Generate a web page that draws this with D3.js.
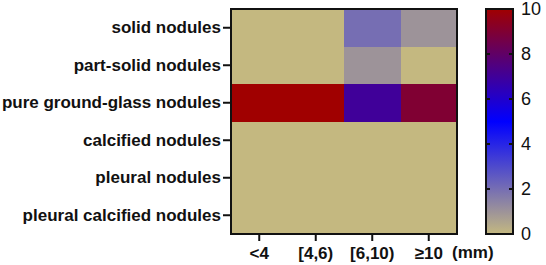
<!DOCTYPE html>
<html>
<head>
<meta charset="utf-8">
<script src="https://cdn.jsdelivr.net/npm/d3@7"></script>
<style>
  body { margin: 0; background: #fff; }
  svg { display: block; font-family: "Liberation Sans", Arial, sans-serif; }
</style>
</head>
<body>
<svg id="chart" width="546" height="265"></svg>
<script>
// nodule types (rows) and size bins (columns)
const rows = [
  "solid nodules",
  "part-solid nodules",
  "pure ground-glass nodules",
  "calcified nodules",
  "pleural nodules",
  "pleural calcified nodules"
];
const cols = ["<4", "[4,6)", "[6,10)", "\u226510"];

const solidVals = [0, 0, 2, 1];
const partSolidVals = [0, 0, 1, 0];
const ggnVals = [10, 10, 7, 9];
const calcifiedVals = [0, 0, 0, 0];
const pleuralVals = [0, 0, 0, 0];
const pleuralCalcVals = [0, 0, 0, 0];
const allVals = [solidVals, partSolidVals, ggnVals, calcifiedVals, pleuralVals, pleuralCalcVals];

const legendTicks = [0, 2, 4, 6, 8, 10];

const svg = d3.select("#chart");

// plot area
const plotL = 231, plotT = 9, plotR = 457, plotB = 234;

const x = d3.scaleBand().domain(cols).range([plotL, plotR]);
const y = d3.scaleBand().domain(rows).range([plotT, plotB]);

const color = d3.scaleLinear()
  .domain([0, 5, 10])
  .range(["#c4b880", "#0000ff", "#a00000"])
  .interpolate(d3.interpolateRgb);

let cells = [];
allVals.forEach(function (vals, i) {
  vals.forEach(function (v, j) {
    cells.push({ row: rows[i], col: cols[j], val: v });
  });
});

svg.append("g")
  .attr("shape-rendering", "crispEdges")
  .selectAll("rect")
  .data(cells)
  .enter()
  .append("rect")
  .attr("x", d => x(d.col))
  .attr("y", d => y(d.row))
  .attr("width", x.bandwidth() + 0.5)
  .attr("height", y.bandwidth() + 0.5)
  .attr("fill", d => color(d.val));

// frame
svg.append("rect")
  .attr("x", plotL)
  .attr("y", plotT)
  .attr("width", plotR - plotL)
  .attr("height", plotB - plotT)
  .attr("fill", "none")
  .attr("stroke", "#111")
  .attr("stroke-width", 2);

// y axis
const yAxis = svg.append("g")
  .attr("transform", "translate(" + plotL + ",0)")
  .call(d3.axisLeft(y).tickSize(8).tickPadding(2));
yAxis.select(".domain").remove();
yAxis.selectAll("line").attr("stroke", "#111").attr("stroke-width", 2);
yAxis.selectAll("text")
  .attr("fill", "#111")
  .style("font-size", "17px")
  .style("font-weight", "bold");

// x axis
const xAxis = svg.append("g")
  .attr("transform", "translate(0," + plotB + ")")
  .call(d3.axisBottom(x).tickSize(7).tickPadding(6));
xAxis.select(".domain").remove();
xAxis.selectAll("line").attr("stroke", "#111").attr("stroke-width", 2);
xAxis.selectAll("text")
  .attr("fill", "#111")
  .style("font-size", "17px")
  .style("font-weight", "bold");

svg.append("text")
  .attr("x", 452)
  .attr("y", 258)
  .attr("fill", "#111")
  .style("font-size", "17px")
  .style("font-weight", "bold")
  .text("(mm)");

// colour bar
const barX = 486, barW = 27;
const ly = d3.scaleLinear().domain([0, 10]).range([plotB, plotT]);

const defs = svg.append("defs");
const grad = defs.append("linearGradient")
  .attr("id", "grad")
  .attr("x1", 0).attr("y1", 1)
  .attr("x2", 0).attr("y2", 0);
d3.range(0, 10.5, 0.5).forEach(function (v) {
  grad.append("stop")
    .attr("offset", v / 10)
    .attr("stop-color", color(v));
});

svg.append("rect")
  .attr("x", barX)
  .attr("y", plotT)
  .attr("width", barW)
  .attr("height", plotB - plotT)
  .attr("fill", "url(#grad)")
  .attr("stroke", "#111")
  .attr("stroke-width", 2);

const inner = legendTicks.filter(t => t > 0 && t < 10);
svg.append("g")
  .selectAll("line")
  .data(inner)
  .enter()
  .append("line")
  .attr("x1", barX)
  .attr("x2", barX + 4)
  .attr("y1", d => ly(d))
  .attr("y2", d => ly(d))
  .attr("stroke", "#111")
  .attr("stroke-width", 2);
svg.append("g")
  .selectAll("line")
  .data(inner)
  .enter()
  .append("line")
  .attr("x1", barX + barW - 4)
  .attr("x2", barX + barW)
  .attr("y1", d => ly(d))
  .attr("y2", d => ly(d))
  .attr("stroke", "#111")
  .attr("stroke-width", 2);

svg.append("g")
  .selectAll("text")
  .data(legendTicks)
  .enter()
  .append("text")
  .attr("x", barX + barW + 8)
  .attr("y", d => ly(d))
  .attr("dy", "0.36em")
  .attr("fill", "#111")
  .style("font-size", "18px")
  .text(d => d);
</script>
</body>
</html>
